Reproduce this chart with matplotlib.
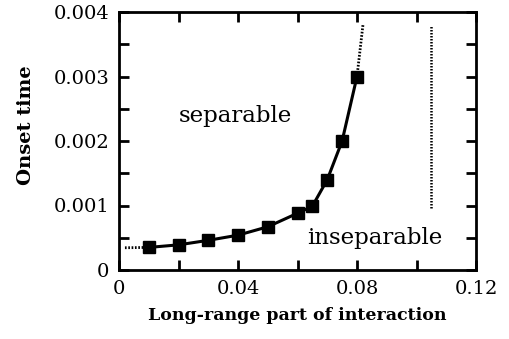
import numpy as np
import matplotlib
matplotlib.use("Agg")
import matplotlib.pyplot as plt
from matplotlib.ticker import MultipleLocator, FuncFormatter

# ── data ────────────────────────────────────────────────────
coupling = [0.01, 0.02, 0.03, 0.04, 0.05, 0.06, 0.065, 0.07, 0.075, 0.08]
onset    = [0.00035, 0.00039, 0.00046, 0.00054, 0.00067, 0.00088, 0.00099, 0.0014, 0.002, 0.003]

# dotted extrapolations
left_ext_x  = [0.002, 0.01]
left_ext_y  = [0.000345, 0.00035]
right_ext_x = [0.08, 0.082]
right_ext_y = [0.003, 0.0038]
vline_x     = [0.105, 0.105]
vline_y     = [0.00096, 0.0038]

plt.rcParams["font.family"] = "DejaVu Serif"
plt.rcParams["font.size"] = 14

fig = plt.figure(figsize=(5.09, 3.39), dpi=100)
ax = fig.add_axes([119 / 509, 1 - 270 / 339, (476 - 119) / 509, (270 - 12) / 339])

ax.plot(coupling, onset, "-", color="black", lw=2.2,
        marker="s", markersize=9, markerfacecolor="black", markeredgecolor="black")
dots = (0, (0.6, 0.6))
ax.plot(left_ext_x, left_ext_y, color="black", lw=2, linestyle=dots)
ax.plot(right_ext_x, right_ext_y, color="black", lw=2, linestyle=dots)
ax.plot(vline_x, vline_y, color="black", lw=1.8, linestyle=dots)

ax.text(0.039, 0.00239, "separable", ha="center", va="center", fontsize=16.5)
ax.text(0.0861, 0.00049, "inseparable", ha="center", va="center", fontsize=16.5)

ax.set_xlim(0, 0.12)
ax.set_ylim(0, 0.004)
ax.xaxis.set_major_locator(MultipleLocator(0.04))
ax.xaxis.set_minor_locator(MultipleLocator(0.02))
ax.yaxis.set_major_locator(MultipleLocator(0.001))
ax.yaxis.set_minor_locator(MultipleLocator(0.0005))

ax.xaxis.set_major_formatter(FuncFormatter(lambda v, p: "0" if abs(v) < 1e-12 else f"{v:.2f}"))
ax.yaxis.set_major_formatter(FuncFormatter(lambda v, p: "0" if abs(v) < 1e-12 else f"{v:.3f}"))

ax.tick_params(which="both", direction="in", top=True, right=True, width=2)
ax.tick_params(which="major", length=7, pad=7)
ax.tick_params(which="minor", length=7)
for s in ax.spines.values():
    s.set_linewidth(2)

ax.set_xlabel("Long-range part of interaction", fontweight="bold", fontsize=12.5)
ax.xaxis.set_label_coords(0.5, -0.145)
ax.set_ylabel("Onset time", fontweight="bold")
ax.yaxis.set_label_coords(-0.235, 0.56)

fig.savefig("out.png", dpi=100)
